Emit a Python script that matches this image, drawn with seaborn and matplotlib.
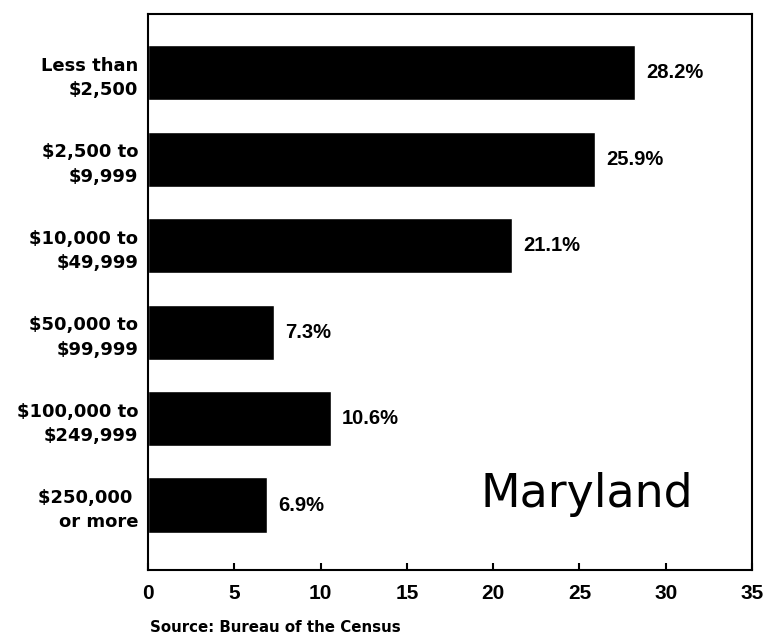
import matplotlib
matplotlib.use("Agg")
import matplotlib.pyplot as plt
from matplotlib import font_manager as fm
import seaborn as sns
import pandas as pd

categories = ["Less than\n$2,500", "$2,500 to\n$9,999", "$10,000 to\n$49,999",
              "$50,000 to\n$99,999", "$100,000 to\n$249,999", "$250,000 \nor more"]
percent = [28.2, 25.9, 21.1, 7.3, 10.6, 6.9]
value_labels = ["28.2%", "25.9%", "21.1%", "7.3%", "10.6%", "6.9%"]
x_ticks = [0, 5, 10, 15, 20, 25, 30, 35]

df = pd.DataFrame({"category": categories, "percent": percent})

sns.set_theme(style="white")
plt.rcParams["font.family"] = ["DejaVu Sans"]


def bold_font(size):
    path = None
    for f in fm.findSystemFonts():
        name = f.split("/")[-1].lower()
        if name == "liberationsans-bold.ttf":
            path = f
            break
    if path:
        return fm.FontProperties(fname=path, size=size)
    return fm.FontProperties(family="DejaVu Sans", weight="bold", size=size * 0.85)


fig = plt.figure(figsize=(7.63, 6.4), dpi=100)
ax = fig.add_axes([148 / 763, 1 - 570 / 640, (752 - 148) / 763, (570 - 14) / 640])

sns.barplot(data=df, x="percent", y="category", color="black", orient="h",
            width=0.64, ax=ax, saturation=1)

ax.set_xlim(0, 35)
ax.set_ylim(5.75, -0.68)
ax.set_xlabel("")
ax.set_ylabel("")

ax.set_xticks(x_ticks)
ax.set_xticklabels([str(t) for t in x_ticks], fontproperties=bold_font(15))
ax.tick_params(axis="x", direction="in", length=5, width=1.5, color="black",
               bottom=True, top=False, pad=10)
ax.tick_params(axis="y", length=0, pad=7)
for lab in ax.get_yticklabels():
    lab.set_fontsize(13)
    lab.set_fontweight("bold")
    lab.set_ha("right")
    lab.set_linespacing(1.45)
    lab.set_color("black")
for lab in ax.get_xticklabels():
    lab.set_color("black")

for sp in ax.spines.values():
    sp.set_visible(True)
    sp.set_color("black")
    sp.set_linewidth(1.5)

vfont = bold_font(14.5)
for i, (v, t) in enumerate(zip(percent, value_labels)):
    ax.annotate(t, xy=(v, i), xytext=(8, 0), textcoords="offset points",
                ha="left", va="center", fontproperties=vfont, color="black")

ax.text(25.4, 4.88, "Maryland", ha="center", va="center", fontsize=33,
        color="black")

fig.text(150 / 763, 1 - 628 / 640, "Source: Bureau of the Census", ha="left",
         va="center", fontsize=10.8, fontweight="bold", color="black")

fig.savefig("out.png", dpi=100, facecolor="white")
